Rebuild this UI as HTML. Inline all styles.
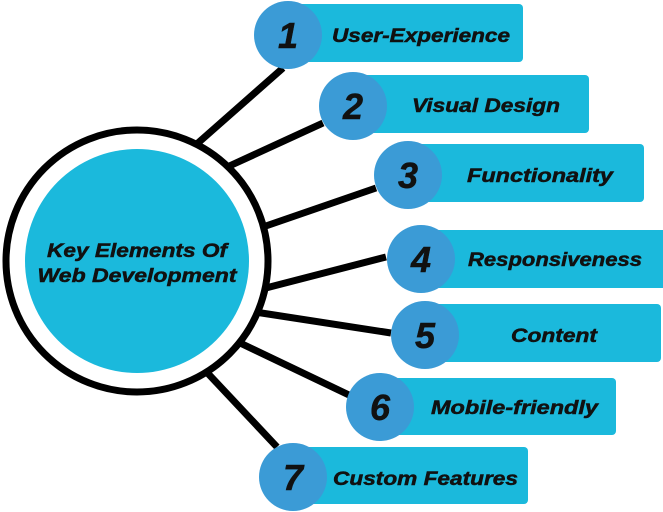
<!DOCTYPE html>
<html><head><meta charset="utf-8"><style>
html,body{margin:0;padding:0;background:#fff;}
svg{display:block;}
text{font-family:"Liberation Sans",sans-serif;font-weight:bold;font-style:italic;fill:#111;stroke:#111;stroke-width:0.5;}
</style></head><body>
<svg width="663" height="512" viewBox="0 0 663 512">
<g stroke="#000" stroke-width="7" stroke-linecap="butt">
<line x1="190" y1="150" x2="283" y2="68"/>
<line x1="225" y1="168" x2="323" y2="123"/>
<line x1="260" y1="228" x2="376" y2="188"/>
<line x1="262" y1="289" x2="386" y2="257"/>
<line x1="255" y1="312" x2="391" y2="333"/>
<line x1="238" y1="342" x2="349" y2="395"/>
<line x1="200" y1="365" x2="277" y2="447"/>
</g>
<circle cx="137" cy="261" r="131" fill="#fff" stroke="#000" stroke-width="7"/>
<circle cx="137" cy="261" r="112" fill="#1bb9dc"/>
<text x="137" y="257" font-size="19" text-anchor="middle" textLength="180" lengthAdjust="spacingAndGlyphs">Key Elements Of</text>
<text x="137" y="282" font-size="19" text-anchor="middle" textLength="199" lengthAdjust="spacingAndGlyphs">Web Development</text>
<g fill="#1bb9dc">
<rect x="288" y="4" width="235" height="58" rx="4"/>
<rect x="353" y="75" width="236" height="58" rx="4"/>
<rect x="408" y="144" width="236" height="58" rx="4"/>
<rect x="421" y="230" width="250" height="58" rx="4"/>
<rect x="425" y="304" width="236" height="58" rx="4"/>
<rect x="380" y="378" width="236" height="57" rx="4"/>
<rect x="293" y="447" width="235" height="57" rx="4"/>
</g>
<g fill="#3b9bd6">
<circle cx="288" cy="35" r="34"/>
<circle cx="353" cy="106" r="34"/>
<circle cx="408" cy="175" r="34"/>
<circle cx="421" cy="259" r="34"/>
<circle cx="425" cy="335" r="34"/>
<circle cx="380" cy="407" r="34"/>
<circle cx="293" cy="477" r="34"/>
</g>
<g font-size="36" text-anchor="middle" style="stroke-width:1.2">
<text x="288" y="48">1</text>
<text x="353" y="119">2</text>
<text x="408" y="188">3</text>
<text x="421" y="272">4</text>
<text x="425" y="348">5</text>
<text x="380" y="420">6</text>
<text x="293" y="490">7</text>
</g>
<g font-size="19">
<text x="332" y="42" textLength="178" lengthAdjust="spacingAndGlyphs">User-Experience</text>
<text x="412" y="112" textLength="148" lengthAdjust="spacingAndGlyphs">Visual Design</text>
<text x="467" y="182" textLength="146" lengthAdjust="spacingAndGlyphs">Functionality</text>
<text x="468" y="266" textLength="174" lengthAdjust="spacingAndGlyphs">Responsiveness</text>
<text x="511" y="342" textLength="86" lengthAdjust="spacingAndGlyphs">Content</text>
<text x="431" y="414" textLength="167" lengthAdjust="spacingAndGlyphs">Mobile-friendly</text>
<text x="333" y="485" textLength="185" lengthAdjust="spacingAndGlyphs">Custom Features</text>
</g>
</svg>
</body></html>
